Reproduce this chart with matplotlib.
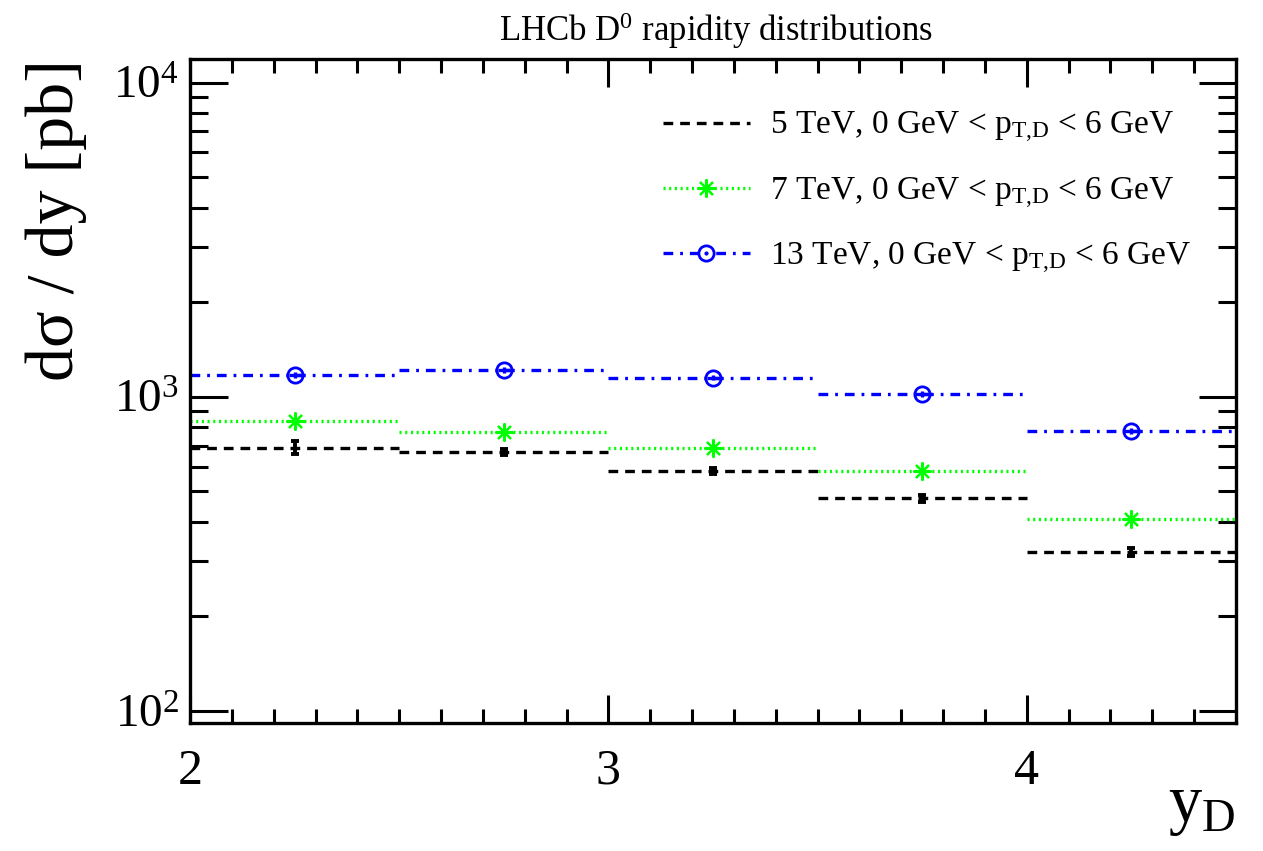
import numpy as np
import matplotlib
matplotlib.use("Agg")
import matplotlib.pyplot as plt
from matplotlib.lines import Line2D
from matplotlib.legend_handler import HandlerTuple
from matplotlib.ticker import LogLocator, LogFormatterMathtext, MultipleLocator, FixedLocator

# ---------------- data ----------------
bin_edges = [2.0, 2.5, 3.0, 3.5, 4.0, 4.5]
bin_centers = [2.25, 2.75, 3.25, 3.75, 4.25]

xs_5tev = [690, 667, 581, 475, 321]
err_5tev = [34, 16, 14, 12, 10]

xs_7tev = [839, 775, 687, 581, 408]
err_7tev = [17, 16, 14, 12, 9]

xs_13tev = [1175, 1219, 1152, 1022, 781]
err_13tev = [25, 26, 24, 21, 17]

labels = [r"5 TeV, 0 GeV < p$_{\mathrm{T{,}D}}$ < 6 GeV",
          r"7 TeV, 0 GeV < p$_{\mathrm{T{,}D}}$ < 6 GeV",
          r"13 TeV, 0 GeV < p$_{\mathrm{T{,}D}}$ < 6 GeV"]
title = r"LHCb D$^{0}$ rapidity distributions"
ylabel = "dσ / dy [pb]"
xlabel = r"y$_{\mathrm{D}}$"

# ---------------- style ----------------
plt.rcParams['font.family'] = ['Liberation Serif', 'DejaVu Serif']
plt.rcParams['mathtext.fontset'] = 'custom'
plt.rcParams['mathtext.rm'] = 'Liberation Serif'
plt.rcParams['mathtext.it'] = 'Liberation Serif:italic'
plt.rcParams['mathtext.bf'] = 'Liberation Serif:bold'
plt.rcParams['lines.scale_dashes'] = False

fig = plt.figure(figsize=(12.63, 8.51), dpi=100)
W, H = 1263, 851
L, R, T, B = 190, 1236, 59, 723
ax = fig.add_axes([L / W, 1 - B / H, (R - L) / W, (B - T) / H])

black_ls = (0, (7.0, 5.0))
green_ls = (0, (1.5, 2.6))
blue_ls = (0, (7.0, 5.0, 2.0, 5.0))
lw = 2.4

# horizontal bin lines
ax.hlines(xs_5tev, bin_edges[:-1], bin_edges[1:], colors='black', linestyles=[black_ls], linewidth=lw)
ax.hlines(xs_7tev, bin_edges[:-1], bin_edges[1:], colors='#00ff00', linestyles=[green_ls], linewidth=lw)
ax.hlines(xs_13tev, bin_edges[:-1], bin_edges[1:], colors='blue', linestyles=[blue_ls], linewidth=lw)

# vertical errors
ax.errorbar(bin_centers, xs_5tev, yerr=err_5tev, fmt='none', ecolor='black', elinewidth=2.8, capsize=3, capthick=2.8)
ax.errorbar(bin_centers, xs_7tev, yerr=err_7tev, fmt='none', ecolor='#00ff00', elinewidth=2.0)
ax.errorbar(bin_centers, xs_13tev, yerr=err_13tev, fmt='none', ecolor='blue', elinewidth=2.4)

# markers
ax.plot(bin_centers, xs_7tev, linestyle='none', marker=(8, 2, 0), markersize=13, mec='#00ff00', mew=1.6)
ax.plot(bin_centers, xs_13tev, linestyle='none', marker='o', markersize=11, mfc='none', mec='blue', mew=2.0)
ax.plot(bin_centers, xs_13tev, linestyle='none', marker='_', markersize=9, mec='blue', mew=2.4)

# axes
ax.set_yscale('log')
ax.set_xlim(bin_edges[0], bin_edges[-1])
ax.set_ylim(91.6, 11900)

ax.xaxis.set_major_locator(FixedLocator([2, 3, 4]))
ax.xaxis.set_minor_locator(MultipleLocator(0.1))
ax.yaxis.set_major_locator(LogLocator(base=10, numticks=10))
ax.yaxis.set_minor_locator(LogLocator(base=10, subs=np.arange(2, 10), numticks=20))
ax.yaxis.set_major_formatter(LogFormatterMathtext())
ax.yaxis.set_minor_formatter(plt.NullFormatter())

for s in ax.spines.values():
    s.set_linewidth(2.4)
ax.tick_params(axis='both', which='both', direction='in', top=True, right=True, width=2.2)
ax.tick_params(axis='y', which='major', length=27, labelsize=34, pad=8)
ax.tick_params(axis='y', which='minor', length=13)
ax.tick_params(axis='x', which='major', length=20, labelsize=36, pad=18)
ax.tick_params(axis='x', which='minor', length=10)

ax.set_ylabel(ylabel, fontsize=49, loc='top')
ax.yaxis.set_label_coords(-0.098, 1.0)
ax.set_xlabel(xlabel, fontsize=48, loc='right')
ax.xaxis.set_label_coords(1.0, -0.082)

fig.text(716 / W, 1 - 31 / H, title, ha='center', va='center', fontsize=25)

# legend
h1 = Line2D([], [], color='black', linestyle=black_ls, linewidth=lw)
h2 = Line2D([], [], color='#00ff00', linestyle=green_ls, linewidth=lw,
            marker=(8, 2, 0), markersize=13, mec='#00ff00', mew=1.6)
h3a = Line2D([], [], color='blue', linestyle=blue_ls, linewidth=lw,
             marker='o', markersize=11, mfc='white', mec='blue', mew=2.0)
h3b = Line2D([], [], color='blue', linestyle='none', marker='.', markersize=4)
leg = ax.legend([h1, h2, (h3a, h3b)], labels, handler_map={tuple: HandlerTuple(ndivide=1)},
                loc='upper left', bbox_to_anchor=((663 - L) / (R - L), 1 - (110 - T) / (B - T)),
                frameon=False, fontsize=24, handlelength=2.6, handletextpad=0.62,
                labelspacing=0.9, borderpad=0.0, borderaxespad=0.0)

fig.savefig('out.png', dpi=100)
